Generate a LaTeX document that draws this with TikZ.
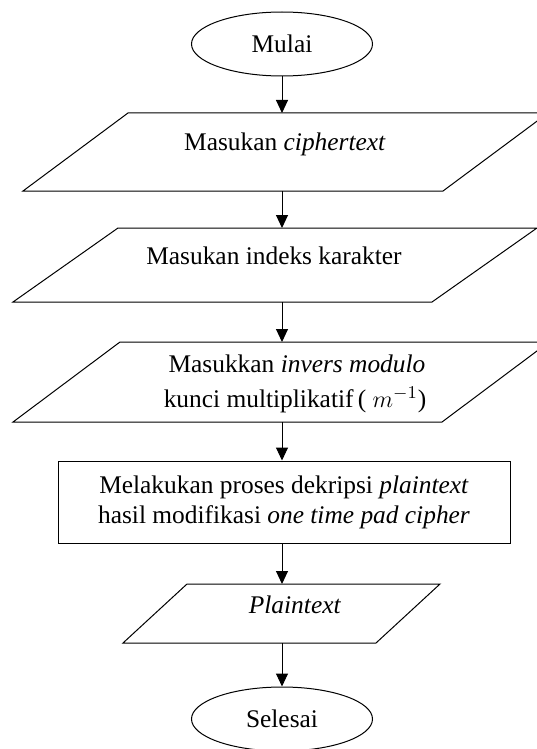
\documentclass[tikz,border=0pt]{standalone}
\usepackage{fontspec}
\setmainfont{Liberation Serif}
\usetikzlibrary{shapes.geometric,arrows.meta}

\begin{document}
\begin{tikzpicture}[x=0.5pt, y=-0.5pt, line width=0.5pt,
    font=\fontsize{12.7}{15}\selectfont,
    terminal/.style={draw, ellipse, minimum width=90.5pt, minimum height=32pt, inner sep=0pt},
    proses/.style={draw, rectangle, minimum width=226pt, minimum height=41pt, align=center},
    teks/.style={anchor=base, inner sep=0pt},
    panah/.style={-{Triangle[width=6pt,length=6.5pt]}}]
  % 画布大小
  \useasboundingbox (0,0) rectangle (536,749);

  % 开始
  \node[terminal] (mulai) at (282,44) {Mulai};

  % 输入 ciphertext
  \draw (23,191) -- (128,113) -- (548,113) -- (443,191) -- cycle;
  \coordinate (cipherT) at (282,113);
  \coordinate (cipherB) at (282,191);
  \node[teks] (cipher) at (285,150) {Masukan \textit{ciphertext}};

  % 输入字符索引
  \draw (13,302) -- (118,228) -- (537,228) -- (432,302) -- cycle;
  \coordinate (indeksT) at (282,228);
  \coordinate (indeksB) at (282,302);
  \node[teks] (indeks) at (274,264) {Masukan indeks karakter};

  % 输入模逆
  \draw (13,422) -- (120,342) -- (549,342) -- (442,422) -- cycle;
  \coordinate (inversT) at (282,342);
  \coordinate (inversB) at (282,422);
  \node[teks] (invers1) at (297,372) {Masukkan \textit{invers modulo}};
  \node[teks] (invers2) at (295,407) {kunci multiplikatif\,( $m^{-1}$)};

  % 解密过程
  \node[proses] (dekripsi) at (284,502)
    {Melakukan proses dekripsi \textit{plaintext}\\hasil modifikasi \textit{one time pad cipher}};

  % 输出 plaintext
  \draw (123,643) -- (187,584) -- (440,584) -- (376,643) -- cycle;
  \coordinate (plainT) at (282,584);
  \coordinate (plainB) at (282,643);
  \node[teks] (plain) at (295,613) {\textit{Plaintext}};

  % 结束
  \node[terminal] (selesai) at (282,719) {Selesai};

  % 连线
  \draw[panah] (mulai.south) -- (cipherT);
  \draw[panah] (cipherB) -- (indeksT);
  \draw[panah] (indeksB) -- (inversT);
  \draw[panah] (inversB) -- (inversB |- dekripsi.north);
  \draw[panah] (dekripsi.south -| plainT) -- (plainT);
  \draw[panah] (plainB) -- (selesai.north);

\end{tikzpicture}
\end{document}
